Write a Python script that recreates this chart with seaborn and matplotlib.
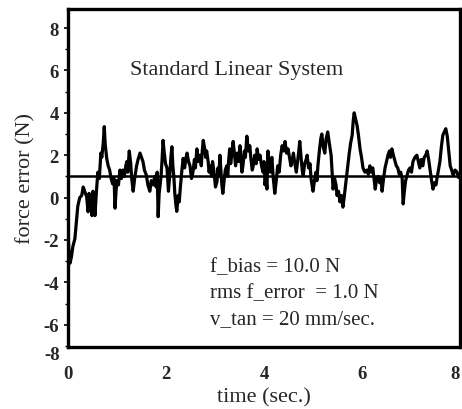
import matplotlib
matplotlib.use("Agg")
import matplotlib.pyplot as plt
import matplotlib.transforms as mtransforms
from matplotlib.ticker import MultipleLocator
import seaborn as sns
import pandas as pd

time_s = [
    0.00, 0.02, 0.04, 0.07, 0.10, 0.14, 0.17, 0.20, 0.24, 0.28, 0.31, 0.34, 0.38, 0.41, 0.43, 0.45,
    0.49, 0.51, 0.53, 0.55, 0.58, 0.61, 0.64, 0.67, 0.69, 0.72, 0.74, 0.76, 0.79, 0.82, 0.85, 0.88,
    0.91, 0.94, 0.96, 0.98, 1.00, 1.03, 1.06, 1.09, 1.12, 1.15, 1.18, 1.20, 1.22, 1.25, 1.28, 1.30,
    1.33, 1.36, 1.40, 1.43, 1.47, 1.50, 1.53, 1.56, 1.60, 1.63, 1.67, 1.70, 1.74, 1.77, 1.80, 1.82,
    1.84, 1.86, 1.88, 1.90, 1.92, 1.94, 1.96, 1.99, 2.02, 2.05, 2.08, 2.10, 2.12, 2.14, 2.16, 2.18,
    2.20, 2.22, 2.25, 2.27, 2.29, 2.32, 2.35, 2.38, 2.41, 2.43, 2.46, 2.49, 2.52, 2.55, 2.58, 2.60,
    2.63, 2.66, 2.69, 2.72, 2.74, 2.76, 2.79, 2.81, 2.83, 2.86, 2.88, 2.90, 2.93, 2.95, 2.98, 3.01,
    3.04, 3.06, 3.08, 3.10, 3.12, 3.14, 3.16, 3.19, 3.21, 3.24, 3.26, 3.28, 3.30, 3.32, 3.35, 3.37,
    3.40, 3.42, 3.45, 3.48, 3.51, 3.53, 3.55, 3.57, 3.60, 3.62, 3.65, 3.68, 3.71, 3.73, 3.76, 3.78,
    3.81, 3.84, 3.86, 3.89, 3.92, 3.95, 3.98, 4.00, 4.02, 4.04, 4.06, 4.08, 4.10, 4.13, 4.16, 4.19,
    4.22, 4.25, 4.28, 4.31, 4.34, 4.37, 4.40, 4.43, 4.46, 4.49, 4.52, 4.55, 4.57, 4.60, 4.63, 4.66,
    4.69, 4.71, 4.73, 4.76, 4.78, 4.80, 4.83, 4.86, 4.88, 4.91, 4.94, 4.96, 4.98, 5.00, 5.03, 5.06,
    5.08, 5.10, 5.13, 5.16, 5.18, 5.21, 5.24, 5.27, 5.30, 5.33, 5.35, 5.37, 5.39, 5.41, 5.44, 5.47,
    5.49, 5.52, 5.55, 5.58, 5.61, 5.63, 5.65, 5.68, 5.71, 5.74, 5.77, 5.80, 5.82, 5.84, 5.87, 5.90,
    5.93, 5.96, 5.99, 6.02, 6.06, 6.10, 6.13, 6.16, 6.19, 6.22, 6.25, 6.27, 6.30, 6.33, 6.36, 6.39,
    6.41, 6.44, 6.47, 6.50, 6.53, 6.56, 6.58, 6.61, 6.64, 6.67, 6.70, 6.73, 6.76, 6.79, 6.82, 6.84,
    6.86, 6.89, 6.92, 6.95, 6.98, 7.01, 7.04, 7.08, 7.12, 7.15, 7.18, 7.21, 7.24, 7.27, 7.30, 7.33,
    7.36, 7.39, 7.42, 7.45, 7.48, 7.51, 7.53, 7.56, 7.59, 7.62, 7.65, 7.68, 7.71, 7.74, 7.76, 7.78,
    7.80, 7.83, 7.86, 7.90, 7.94, 7.97, 8.00,
]

force_error = [
    -1.6, -2.6, -3.1, -2.8, -2.3, -1.95, -1.2, -0.4, 0.0, 0.1, 0.5, 0.3, 0.05, -0.67, 0.2, 0.0,
    -0.85, 0.3, -0.2, -0.85, 0.3, 1.2, 0.9, 2.1, 1.9, 2.6, 3.35, 2.5, 1.85, 1.5, 1.3, 0.9,
    0.65, 0.9, -0.5, 0.3, 0.8, 0.6, 1.3, 0.9, 1.3, 1.0, 1.5, 1.7, 1.2, 2.2, 1.6, 0.9,
    0.3, 0.9, 1.5, 1.8, 2.1, 1.9, 1.7, 1.3, 1.05, 0.6, 0.3, 0.8, 0.6, 1.0, 0.5, 1.2,
    -0.9, 0.2, 0.6, 1.05, 1.8, 2.7, 2.2, 1.6, 1.4, 0.3, 1.2, 1.9, 2.4, 1.5, 1.0, 0.2,
    -0.3, -0.65, 0.1, -0.2, 0.4, 1.2, 1.85, 1.4, 1.9, 2.1, 1.7, 1.5, 0.9, 1.2, 1.8, 1.4,
    2.3, 1.7, 2.0, 1.5, 2.2, 2.7, 2.3, 1.9, 2.2, 1.7, 1.2, 1.5, 1.0, 1.7, 1.2, 0.5,
    0.75, 1.4, 1.0, 2.0, 1.3, 0.6, 0.2, 0.9, 1.3, 1.5, 1.0, 1.8, 2.3, 1.6, 2.2, 2.65,
    2.0, 1.5, 2.1, 1.7, 2.45, 1.8, 1.2, 1.5, 2.2, 1.9, 2.9, 2.2, 2.45, 1.9, 1.3, 1.5,
    2.0, 1.6, 2.3, 1.8, 2.0, 1.5, 1.2, 1.7, 0.6, 0.9, 0.4, 2.2, 1.6, 1.2, 1.9, 0.9,
    0.2, 0.8, 1.5, 1.2, 2.0, 2.45, 2.2, 2.65, 2.1, 2.3, 1.9, 1.5, 1.7, 2.1, 1.6, 1.2,
    1.8, 2.2, 2.65, 1.8, 1.3, 1.05, 1.6, 1.8, 2.0, 1.4, 1.6, 0.9, 0.6, 0.3, 0.8, 1.2,
    0.8, 1.5, 2.2, 2.8, 3.0, 2.4, 2.1, 2.8, 3.1, 2.6, 2.3, 2.0, 1.2, 0.4, 0.9, 0.6,
    0.1, 0.3, -0.2, 0.1, -0.45, -0.1, 0.3, 0.9, 1.5, 2.1, 2.6, 2.95, 3.6, 4.0, 3.7, 3.4,
    2.9, 2.3, 1.9, 1.4, 1.2, 1.3, 1.1, 1.5, 1.2, 1.4, 0.8, 0.4, 0.9, 1.0, 0.7, 0.9,
    0.3, 0.9, 1.4, 1.7, 2.0, 2.2, 1.9, 2.3, 2.0, 1.75, 1.5, 1.4, 1.1, 1.2, 0.9, -0.3,
    0.2, 0.8, 1.05, 1.3, 1.4, 1.2, 1.7, 1.9, 2.0, 1.7, 1.4, 1.8, 1.5, 1.9, 2.0, 2.2,
    1.8, 1.3, 0.8, 0.4, 0.7, 0.6, 0.9, 1.3, 1.7, 2.4, 2.95, 3.1, 3.25, 2.9, 2.45, 2.0,
    1.5, 1.3, 1.05, 1.3, 1.2, 0.95, 1.1,
]

bias_level = 1.0
y_ticks = [-6, -4, -2, 0, 2, 4, 6, 8]
x_ticks = [0, 2, 4, 6, 8]
title_text = "Standard Linear System"
info_lines = ["f_bias = 10.0 N", "rms f_error  = 1.0 N", "v_tan = 20 mm/sec."]

sns.set_theme(style="white")
plt.rcParams["font.family"] = ["Liberation Serif", "DejaVu Serif"]
plt.rcParams["axes.unicode_minus"] = False

df = pd.DataFrame({"time": time_s, "force_error": force_error})

fig = plt.figure(figsize=(4.62, 4.10), dpi=100)
ax = fig.add_axes([68 / 462, 62 / 410, 392 / 462, 338 / 410])

sns.lineplot(data=df, x="time", y="force_error", ax=ax, color="black",
             linewidth=2.3, estimator=None, sort=False)
ax.axhline(bias_level, color="black", linewidth=1.8, zorder=1)

ax.set_xlim(0, 8)
ax.set_ylim(-7.05, 8.9)
ax.set_xticks(x_ticks)
ax.set_yticks(y_ticks)
ax.yaxis.set_minor_locator(MultipleLocator(1))

for s in ax.spines.values():
    s.set_color("black")
    s.set_linewidth(2.4)

ax.tick_params(axis="y", which="major", direction="out", length=3, width=1.2,
               color="black", left=True, pad=3.5, labelsize=13.5)
ax.tick_params(axis="y", which="minor", direction="out", length=2, width=1.0,
               color="black", left=True)
ax.tick_params(axis="x", which="major", length=0, pad=13, labelsize=13.5)
for lab in ax.get_xticklabels() + ax.get_yticklabels():
    lab.set_fontweight("bold")
ax.get_xticklabels()[-1].set_horizontalalignment("right")

# the "-8" label sits just below the cropped frame
trans = mtransforms.blended_transform_factory(ax.transAxes, ax.transData)
ax.text(-0.02, -7.4, "-8", transform=trans, ha="right", va="center",
        fontsize=13.5, fontweight="bold", clip_on=False)

ax.set_xlabel("time (sec.)", fontsize=16, labelpad=4)
ax.set_ylabel("force error (N)", fontsize=16, labelpad=6)

ax.text((237 - 68) / 392, (348 - 70) / 338, title_text, transform=ax.transAxes,
        ha="center", va="center", fontsize=16)
for i, line in enumerate(info_lines):
    ax.text((210 - 68) / 392, (348 - (268 + 26 * i)) / 338, line,
            transform=ax.transAxes, ha="left", va="center", fontsize=15)

fig.savefig("out.png", dpi=100)
